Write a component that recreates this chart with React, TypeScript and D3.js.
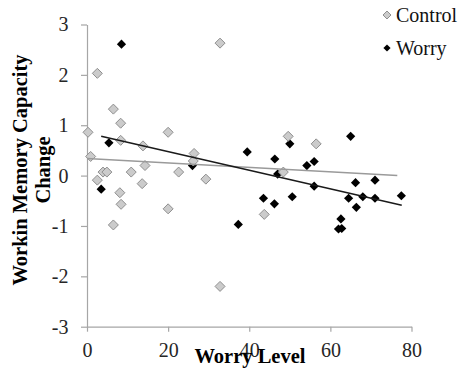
import * as d3 from 'd3';
import React, { useEffect, useRef } from 'react';

// values
const controlX = [0.25, 0.9, 2.55, 2.55, 3.95, 4.9, 6.5, 6.5, 8.3, 8.3, 8.1, 8.4, 10.9, 13.8, 14.3, 13.6, 20, 20, 22.6, 26.4, 26.2, 29.3, 32.8, 32.8, 43.7, 48.4, 49.6, 56.5];
const controlY = [0.86, 0.38, 2.03, -0.09, 0.07, 0.07, 1.32, -0.98, 1.04, 0.7, -0.34, -0.57, 0.07, 0.59, 0.2, -0.16, 0.86, -0.66, 0.07, 0.44, 0.29, -0.07, 2.63, -2.2, -0.77, 0.07, 0.78, 0.63];
const worryX = [3.5, 5.4, 8.5, 26, 37.3, 39.5, 43.5, 46.2, 46.3, 47, 50, 50.6, 54.2, 56, 56, 62, 62.6, 62.8, 64.5, 65, 66.2, 66.4, 68, 71, 71, 77.5];
const worryY = [-0.27, 0.65, 2.61, 0.2, -0.97, 0.47, -0.45, -0.56, 0.33, 0.03, 0.63, -0.42, 0.2, 0.28, -0.21, -1.06, -0.86, -1.05, -0.45, 0.78, -0.14, -0.63, -0.42, -0.09, -0.45, -0.4];
const controlTrend: [number, number][] = [[0, 0.34], [76.5, 0.0]];
const worryTrend: [number, number][] = [[3.5, 0.78], [77.6, -0.59]];
const xTicks = [0, 20, 40, 60, 80];
const yTicks = [-3, -2, -1, 0, 1, 2, 3];

const diamond = (r: number) => `M0,${-r}L${r},0L0,${r}L${-r},0Z`;

export default function App() {
  const svgRef = useRef<SVGSVGElement>(null);
  const width = 462;
  const height = 375;

  useEffect(() => {
    const svg = d3.select(svgRef.current);
    svg.selectAll('*').remove();

    const x = d3.scaleLinear().domain([0, 80]).range([87, 411.5]);
    const y = d3.scaleLinear().domain([-3, 3]).range([326.7, 24.5]);
    const axisColor = '#a6a6a6';
    const font = '"Liberation Serif", serif';

    const yAxis = svg
      .append('g')
      .attr('transform', `translate(${x(0)},0)`)
      .call(
        d3.axisLeft(y).tickValues(yTicks).tickFormat((d) => String(d))
          .tickSize(6).tickSizeOuter(0).tickPadding(12.5)
      );
    const xAxis = svg
      .append('g')
      .attr('transform', `translate(0,${y(-3)})`)
      .call(
        d3.axisBottom(x).tickValues(xTicks).tickFormat((d) => String(d))
          .tickSize(5).tickSizeOuter(0).tickPadding(11)
      );

    [xAxis, yAxis].forEach((a) => {
      a.attr('font-family', font).attr('font-size', 20);
      a.selectAll('path,line').attr('stroke', axisColor).attr('stroke-width', 1.2);
      a.selectAll('text').attr('fill', '#262626');
    });

    const worry = worryX.map((v, i) => ({ x: v, y: worryY[i] }));
    const control = controlX.map((v, i) => ({ x: v, y: controlY[i] }));

    svg.append('g')
      .selectAll('path')
      .data(worry)
      .enter()
      .append('path')
      .attr('d', diamond(4.6))
      .attr('transform', (d) => `translate(${x(d.x)},${y(d.y)})`)
      .attr('fill', '#000');

    svg.append('g')
      .selectAll('path')
      .data(control)
      .enter()
      .append('path')
      .attr('d', diamond(5))
      .attr('transform', (d) => `translate(${x(d.x)},${y(d.y)})`)
      .attr('fill', '#cbcbcb')
      .attr('stroke', '#8f8f8f')
      .attr('stroke-width', 1);

    const line = d3.line<[number, number]>().x((d) => x(d[0])).y((d) => y(d[1]));
    svg.append('path').attr('d', line(controlTrend)).attr('stroke', '#9a9a9a').attr('stroke-width', 1.5).attr('fill', 'none');
    svg.append('path').attr('d', line(worryTrend)).attr('stroke', '#1a1a1a').attr('stroke-width', 1.5).attr('fill', 'none');

    // axis titles
    svg.append('text')
      .attr('x', 250)
      .attr('y', 363)
      .attr('text-anchor', 'middle')
      .attr('font-family', font)
      .attr('font-size', 20.5)
      .attr('font-weight', 'bold')
      .text('Worry Level');

    const yTitle = svg.append('text')
      .attr('transform', 'translate(27,170) rotate(-90)')
      .attr('text-anchor', 'middle')
      .attr('font-family', font)
      .attr('font-size', 20.5)
      .attr('font-weight', 'bold');
    yTitle.append('tspan').attr('x', 0).attr('y', 0).text('Workin Memory Capacity');
    yTitle.append('tspan').attr('x', 0).attr('y', 23).text('Change');

    // legend
    const legend = [
      { name: 'Control', fill: '#cbcbcb', stroke: '#8f8f8f', r: 4, cy: 15, by: 21.5 },
      { name: 'Worry', fill: '#000', stroke: 'none', r: 3.6, cy: 48, by: 55 },
    ];
    const lg = svg.append('g');
    lg.selectAll('path')
      .data(legend)
      .enter()
      .append('path')
      .attr('d', (d) => diamond(d.r))
      .attr('transform', (d) => `translate(387,${d.cy})`)
      .attr('fill', (d) => d.fill)
      .attr('stroke', (d) => d.stroke);
    lg.selectAll('text')
      .data(legend)
      .enter()
      .append('text')
      .attr('x', 396)
      .attr('y', (d) => d.by)
      .attr('font-family', font)
      .attr('font-size', 20)
      .attr('fill', '#111')
      .text((d) => d.name);
  }, []);

  return (
    <div style={{ position: 'absolute', left: 0, top: 0 }}>
      <svg ref={svgRef} width={width} height={height} style={{ display: 'block', background: '#fff' }} />
    </div>
  );
}
